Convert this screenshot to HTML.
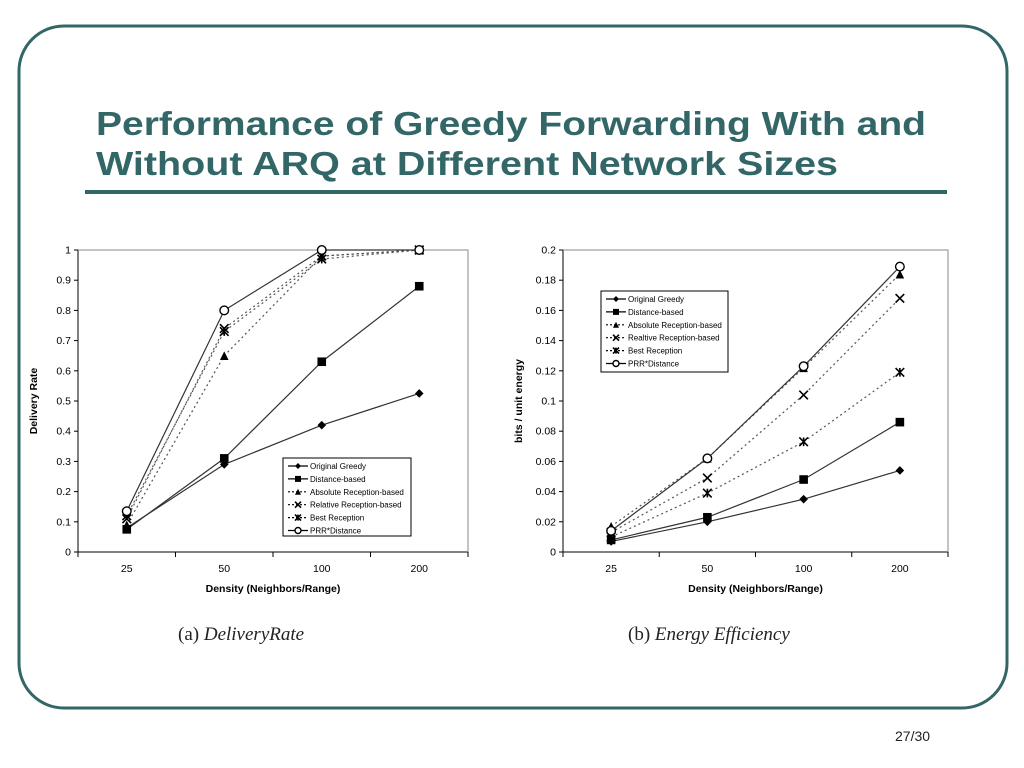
<!DOCTYPE html>
<html><head><meta charset="utf-8"><style>
html,body{margin:0;padding:0;background:#fff;}
svg{display:block;font-family:"Liberation Sans",sans-serif;}
</style></head><body>
<svg id="s" width="1024" height="768" viewBox="0 0 1024 768" xmlns="http://www.w3.org/2000/svg">
<rect x="19" y="26" width="988" height="682" rx="45" fill="#fff" stroke="#336666" stroke-width="3"/>
<text x="96" y="135" font-size="33" font-weight="bold" fill="#336666" textLength="830" lengthAdjust="spacingAndGlyphs">Performance of Greedy Forwarding With and</text>
<text x="96" y="175" font-size="33" font-weight="bold" fill="#336666" textLength="742" lengthAdjust="spacingAndGlyphs">Without ARQ at Different Network Sizes</text>
<rect x="85" y="190" width="862" height="4" fill="#336666"/>
<g id="c1"></g>
<g id="c2"></g>
<text x="178" y="640" font-family="Liberation Serif,serif" font-size="19" fill="#222">(a) <tspan font-style="italic">DeliveryRate</tspan></text>
<text x="628" y="640" font-family="Liberation Serif,serif" font-size="19" fill="#222">(b) <tspan font-style="italic">Energy Efficiency</tspan></text>
<text x="895" y="741" font-size="14" fill="#222">27/30</text>
</svg>
<script>
const categories = ["25","50","100","200"];
const seriesNames = ["Original Greedy","Distance-based","Absolute Reception-based","Relative Reception-based","Best Reception","PRR*Distance"];
const seriesNamesB = ["Original Greedy","Distance-based","Absolute Reception-based","Realtive Reception-based","Best Reception","PRR*Distance"];
const delivGreedy = [0.08,0.29,0.42,0.525];
const delivDistance = [0.075,0.31,0.63,0.88];
const delivAbsolute = [0.09,0.65,0.98,1.0];
const delivRelative = [0.11,0.74,0.98,1.0];
const delivBest = [0.12,0.73,0.97,1.0];
const delivPRR = [0.135,0.80,1.0,1.0];
const energyGreedy = [0.007,0.020,0.035,0.054];
const energyDistance = [0.008,0.023,0.048,0.086];
const energyAbsolute = [0.017,0.062,0.122,0.184];
const energyRelative = [0.013,0.049,0.104,0.168];
const energyBest = [0.010,0.039,0.073,0.119];
const energyPRR = [0.014,0.062,0.123,0.189];
const ticksA = ["0","0.1","0.2","0.3","0.4","0.5","0.6","0.7","0.8","0.9","1"];
const ticksB = ["0","0.02","0.04","0.06","0.08","0.1","0.12","0.14","0.16","0.18","0.2"];

const NS="http://www.w3.org/2000/svg";
function mk(p,tag,a){const e=document.createElementNS(NS,tag);for(const k in a)e.setAttribute(k,a[k]);p.appendChild(e);return e;}
const markers=["diamond","square","triangle","x","star","circle"];
const dashed=[false,false,true,true,true,false];
function marker(g,type,x,y,s){
  let e;
  if(type==="diamond")e=mk(g,"path",{d:`M${x} ${y-s}L${x+s} ${y}L${x} ${y+s}L${x-s} ${y}Z`,fill:"#000"});
  else if(type==="square")e=mk(g,"rect",{x:x-s,y:y-s,width:2*s,height:2*s,fill:"#000"});
  else if(type==="triangle")e=mk(g,"path",{d:`M${x} ${y-s}L${x+s} ${y+s}L${x-s} ${y+s}Z`,fill:"#000"});
  else if(type==="x")e=mk(g,"path",{d:`M${x-s} ${y-s}L${x+s} ${y+s}M${x+s} ${y-s}L${x-s} ${y+s}`,stroke:"#000","stroke-width":1.6,fill:"none"});
  else if(type==="star")e=mk(g,"path",{d:`M${x-s} ${y-s}L${x+s} ${y+s}M${x+s} ${y-s}L${x-s} ${y+s}M${x} ${y-s}L${x} ${y+s}`,stroke:"#000","stroke-width":1.6,fill:"none"});
  else e=mk(g,"circle",{cx:x,cy:y,r:s,fill:"#fff",stroke:"#000","stroke-width":1.4});
  
  
}
function chart(id,cfg){
  const g=document.getElementById(id);
  const {x0,x1,yTop,yBot,max,ticks,data,names,yTitle,leg}=cfg;
  const band=(x1-x0)/categories.length;
  const xs=i=>x0+band*(i+0.5);
  const ys=v=>yBot-(v/max)*(yBot-yTop);
  const ax=mk(g,"path",{d:`M${x0} ${yTop}V${yBot}H${x1}`,stroke:"#000","stroke-width":1,fill:"none"});
  
  const fr=mk(g,"path",{d:`M${x0} ${yTop}H${x1}V${yBot}`,stroke:"#888","stroke-width":1,fill:"none"});
  
  ticks.forEach((t,i)=>{const v=i*max/(ticks.length-1),y=ys(v);
    mk(g,"line",{x1:x0-4,x2:x0,y1:y,y2:y,stroke:"#000"});
    const tx=mk(g,"text",{x:x0-7,y:y+3.5,"font-size":10.5,"text-anchor":"end"});tx.textContent=t;
    });
  for(let i=0;i<=categories.length;i++){const x=x0+band*i;mk(g,"line",{x1:x,x2:x,y1:yBot,y2:yBot+5,stroke:"#000"});}
  categories.forEach((c,i)=>{const tx=mk(g,"text",{x:xs(i),y:yBot+20,"font-size":10.5,"text-anchor":"middle"});tx.textContent=c;
    });
  const xt=mk(g,"text",{x:(x0+x1)/2,y:yBot+40,"font-size":10.5,"font-weight":"bold","text-anchor":"middle"});xt.textContent="Density (Neighbors/Range)";
  
  const yc=(yTop+yBot)/2,yx=x0-41;
  const yt=mk(g,"text",{x:yx,y:yc,"font-size":10.5,"font-weight":"bold","text-anchor":"middle",transform:`rotate(-90 ${yx} ${yc})`});yt.textContent=yTitle;
  
  data.forEach((d,si)=>{
    const sg=mk(g,"g",{});
    const pts=d.map((v,i)=>`${xs(i)},${ys(v)}`).join(" ");
    const pl=mk(sg,"polyline",{points:pts,fill:"none",stroke:dashed[si]?"#555":"#333","stroke-width":1.2,"stroke-dasharray":dashed[si]?"2 3":"none"});
    
    d.forEach((v,i)=>marker(sg,markers[si],xs(i),ys(v),4.3));
  });
  const lg=mk(g,"g",{});
  mk(lg,"rect",{x:leg.x,y:leg.y,width:leg.w,height:leg.h,fill:"#fff",stroke:"#000","stroke-width":1});
  names.forEach((n,i)=>{const y=leg.y+8+i*12.9;
    const le=mk(lg,"g",{});
    mk(le,"line",{x1:leg.x+5,x2:leg.x+25,y1:y,y2:y,stroke:"#000","stroke-width":1.2,"stroke-dasharray":dashed[i]?"2 2":"none"});
    marker(le,markers[i],leg.x+15,y,3);
    const t=mk(le,"text",{x:leg.x+27,y:y+3,"font-size":8});t.textContent=n;});
}
chart("c1",{x0:78,x1:468,yTop:250,yBot:552,max:1,ticks:ticksA,yTitle:"Delivery Rate",names:seriesNames,
  data:[delivGreedy,delivDistance,delivAbsolute,delivRelative,delivBest,delivPRR],leg:{x:283,y:458,w:128,h:78}});
chart("c2",{x0:563,x1:948,yTop:250,yBot:552,max:0.2,ticks:ticksB,yTitle:"bits / unit energy",names:seriesNamesB,
  data:[energyGreedy,energyDistance,energyAbsolute,energyRelative,energyBest,energyPRR],leg:{x:601,y:291,w:127,h:81}});
</script>
</body></html>
